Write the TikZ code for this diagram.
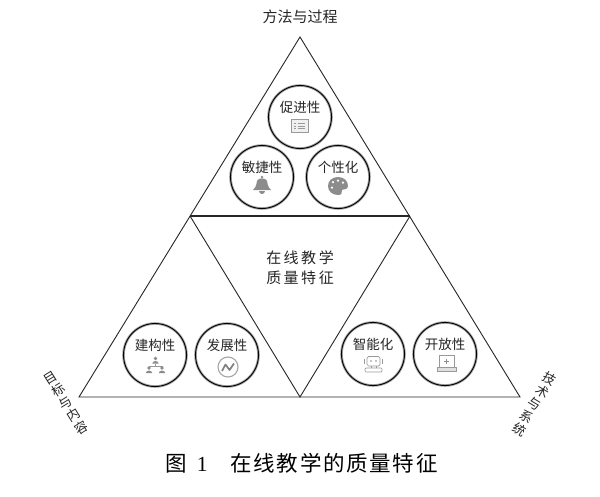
\documentclass[tikz,border=0pt]{standalone}
\usepackage{fontspec}
\setmainfont{Noto Sans CJK SC}[Scale=1]
\newfontfamily\latinserif{Liberation Serif}
\tikzset{
  x=1pt,y=-1pt,
  edge/.style={draw=black!85,line width=0.9pt,line join=miter},
  heavy/.style={draw=black!85,line width=1.3pt},
  bubble/.style={circle,draw=black,line width=0.9pt,minimum size=63pt,inner sep=0pt,
     preaction={draw=black!35,line width=2.6pt}},
  bubbletext/.style={font=\fontsize{13.5}{14}\selectfont,text=black!85,inner sep=0pt},
  maintext/.style={font=\fontsize{15}{16}\selectfont,text=black!85,inner sep=0pt},
  sidetext/.style={font=\fontsize{13}{14.8}\selectfont,text=black!85,inner sep=0pt,align=center},
  iconline/.style={draw=black!40,line width=0.7pt,fill=none},
}
\colorlet{iconshade}{black!45}
\begin{document}
\begin{tikzpicture}
\useasboundingbox (0,0) rectangle (600,496);
\fill[white] (0,0) rectangle (600,496);
% triangles
\coordinate (apex) at (300,37);
\coordinate (bl) at (79,397);
\coordinate (br) at (520,397);
\coordinate (il) at (190,216);
\coordinate (ir) at (410,216);
\coordinate (ib) at (300,397);
\draw[edge] (apex) -- (br) -- (bl) -- cycle;
\draw[edge] (il) -- (ib) -- (ir);
\draw[heavy] (il) -- (ir);
% bubbles
\node[bubble] (c1) at (300,117) {};
\node[bubble] (c2) at (262,177) {};
\node[bubble] (c3) at (338,177) {};
\node[bubble] (c4) at (155,355) {};
\node[bubble] (c5) at (227,355) {};
\node[bubble] (c6) at (373,354) {};
\node[bubble] (c7) at (445,354) {};
% bubble labels
\node[bubbletext] (t1) at (300,107) {促进性};
\node[bubbletext] (t2) at (262,167) {敏捷性};
\node[bubbletext] (t3) at (338,167) {个性化};
\node[bubbletext] (t4) at (155,345) {建构性};
\node[bubbletext] (t5) at (227,345) {发展性};
\node[bubbletext] (t6) at (373,344) {智能化};
\node[bubbletext] (t7) at (445,344) {开放性};
% board icon
\draw[iconline,line width=1pt,fill=black!6] (291,119.5) rectangle (308,132.5);
\foreach \yy in {123.5,126,128.5}{
  \draw[draw=black!40,line width=0.8pt] (294,\yy) -- (296,\yy);
  \draw[draw=black!40,line width=0.8pt] (298,\yy) -- (305,\yy);
}
% bell icon
\fill[iconshade] (262,177) circle (1.4);
\fill[iconshade] (253,190) .. controls (256.5,187) and (256.5,183) .. (257,181)
   .. controls (258,177.5) and (266,177.5) .. (267,181)
   .. controls (267.5,183) and (267.5,187) .. (271,190) -- cycle;
\fill[iconshade] (259,191) -- (265,191)
   .. controls (265,194.5) and (259,194.5) .. (259,191) -- cycle;
% palette icon
\fill[iconshade,even odd rule] (338,177) .. controls (344,177) and (348,181) .. (348,186)
   .. controls (348,190) and (343,189) .. (342,190)
   .. controls (341,192) and (343,195) .. (338,195)
   .. controls (332,195) and (328,191) .. (328,186)
   .. controls (328,181) and (332,177) .. (338,177) -- cycle
   (333,182) circle (1.5) (338,180.5) circle (1.5) (343,182.5) circle (1.5) (332,187.5) circle (1.5);
% organisation icon
\draw[iconline] (155.5,364) -- (155.5,366) (149,368) -- (149,366) -- (162,366) -- (162,368);
\foreach \cx/\cy in {155.5/358.5,149/368,162/368}{
  \fill[iconshade] (\cx,\cy) circle (1.9);
  \fill[iconshade] (\cx-3.2,\cy+5) .. controls (\cx-3,\cy+1.8) and (\cx+3,\cy+1.8) .. (\cx+3.2,\cy+5) -- cycle;
}
% chart icon
\draw[draw=black!35,line width=1.1pt] (228,367) circle (10);
\draw[draw=black!50,line width=1.7pt,line join=round] (222,371) -- (225.5,364.5) -- (229.5,370) -- (234,363.5);
% robot icon
\draw[iconline,rounded corners=1.5pt] (367,356.5) rectangle (380,366);
\draw[iconline] (364.5,359) -- (364.5,364) (382.5,359) -- (382.5,364);
\fill[iconshade] (371,361) circle (0.9) (376,361) circle (0.9);
\draw[iconline] (371,366) -- (371,368) (376,366) -- (376,368);
\draw[iconline,rounded corners=1pt] (365,368) rectangle (382,372);
% laptop icon
\draw[iconline,line width=1pt] (439,355.5) rectangle (454,367);
\draw[iconline,fill=black!12] (437,367) -- (456,367) -- (456,371) -- (437,371) -- cycle;
\draw[draw=black!45,line width=0.8pt] (444,361) -- (449,361) (446.5,358.5) -- (446.5,363.5);
% main texts
\node[maintext] (top) at (300,17) {方法与过程};
\node[maintext,align=center] (m1) at (300,258) {在\,线\,教\,学};
\node[maintext,align=center] (m2) at (300,278) {质\,量\,特\,征};
% side labels
\node[sidetext,rotate=32] (leftside) at (66,403) {目\\标\\与\\内\\容};
\node[sidetext,rotate=-31] (rightside) at (534.5,404) {技\\术\\与\\系\\统};
% caption
\node[inner sep=0pt,text=black,font=\fontsize{21.5}{22}\selectfont] (cap) at (301.5,463)
  {图\hspace{10pt}{\latinserif 1}\hspace{23pt}在\hspace{1.7pt}线\hspace{1.7pt}教\hspace{1.7pt}学\hspace{1.7pt}的\hspace{1.7pt}质\hspace{1.7pt}量\hspace{1.7pt}特\hspace{1.7pt}征};
\end{tikzpicture}
\end{document}
